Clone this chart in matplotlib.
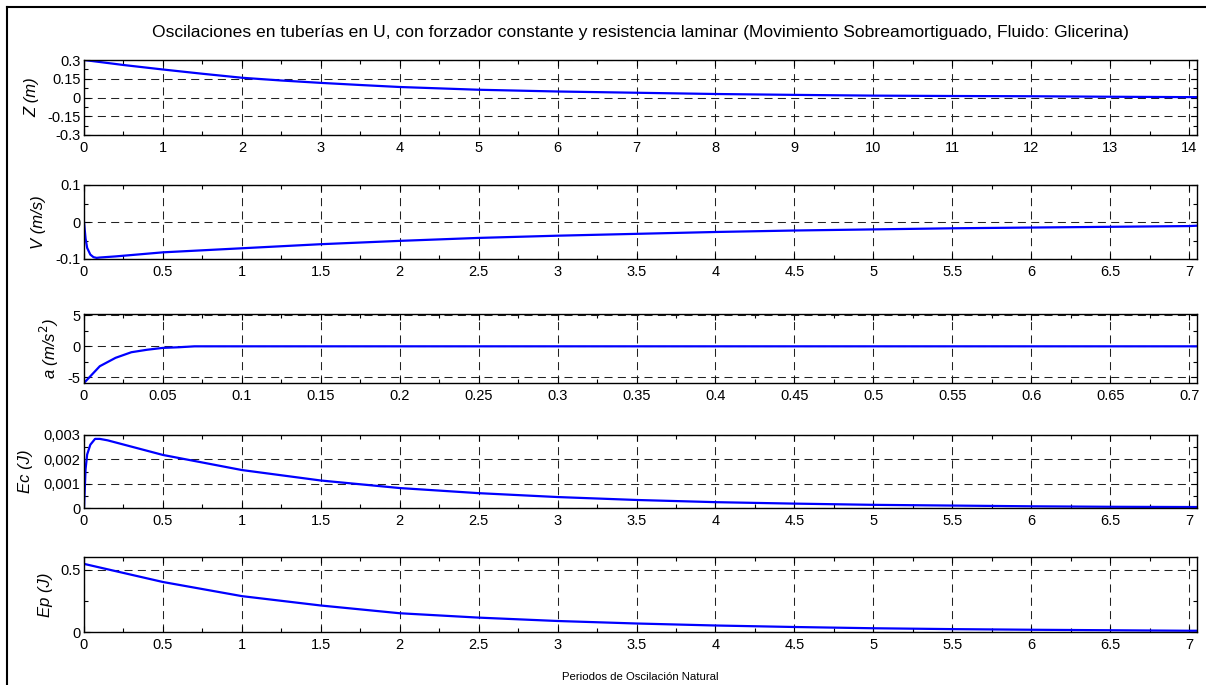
import matplotlib
matplotlib.use("Agg")
import matplotlib.pyplot as plt
from matplotlib.ticker import MultipleLocator, FuncFormatter
from matplotlib.lines import Line2D

plt.rcParams['font.family'] = ['Liberation Sans', 'DejaVu Sans']
plt.rcParams['lines.scale_dashes'] = False

title = ("Oscilaciones en tuberías en U, con forzador constante y resistencia laminar "
         "(Movimiento Sobreamortiguado, Fluido: Glicerina)")
xlabel = "Periodos de Oscilación Natural"

# Z (m) vs periods
z_t = [0, 0.5, 1, 1.5, 2, 2.5, 3, 3.5, 4, 5, 6, 7, 8, 9, 10, 11, 12, 13, 14, 14.1]
z_v = [0.3, 0.26, 0.224, 0.19, 0.158, 0.136, 0.117, 0.1, 0.084, 0.062, 0.048, 0.038,
       0.028, 0.021, 0.015, 0.012, 0.01, 0.006, 0.003, 0.003]

# V (m/s)
v_t = [0, 0.01, 0.02, 0.04, 0.06, 0.08, 0.1, 0.2, 0.5, 1, 1.5, 2, 2.5, 3, 3.5, 4,
       4.5, 5, 5.5, 6, 6.5, 7, 7.05]
v_v = [0, -0.045, -0.07, -0.088, -0.095, -0.097, -0.096, -0.093, -0.082, -0.071,
       -0.06, -0.051, -0.043, -0.037, -0.032, -0.027, -0.023, -0.02, -0.017,
       -0.015, -0.013, -0.011, -0.01]

# a (m/s^2)
a_t = [0, 0.01, 0.02, 0.03, 0.04, 0.05, 0.06, 0.07, 0.1, 0.3, 0.5, 0.705]
a_v = [-5.9, -3.2, -1.85, -0.95, -0.55, -0.25, -0.15, 0.0, 0.0, 0.0, 0.0, 0.0]

# Ec (J)
ec_t = [0, 0.01, 0.02, 0.04, 0.07, 0.1, 0.15, 0.5, 1, 1.5, 2, 2.5, 3, 3.5, 4, 4.5,
        5, 5.5, 6, 6.5, 7, 7.05]
ec_v = [0, 0.0016, 0.0022, 0.0026, 0.00284, 0.00284, 0.00278, 0.00218, 0.00156,
        0.00113, 0.00082, 0.00061, 0.00045, 0.00033, 0.00024, 0.00018, 0.00013,
        0.0001, 0.00007, 0.00005, 0.00004, 0.00004]

# Ep (J)
ep_t = [0, 0.5, 1, 1.5, 2, 2.5, 3, 3.5, 4, 4.5, 5, 5.5, 6, 6.5, 7, 7.05]
ep_v = [0.545, 0.40, 0.287, 0.212, 0.15, 0.115, 0.088, 0.068, 0.052, 0.04, 0.03,
        0.023, 0.018, 0.014, 0.01, 0.01]

W, H = 1206, 685
fig = plt.figure(figsize=(W / 100, H / 100), dpi=100)

def rect(top, bottom, left=84, right=1197):
    return [left / W, 1 - bottom / H, (right - left) / W, (bottom - top) / H]

fmt_g = FuncFormatter(lambda v, p: ("%g" % v) if abs(v) > 1e-12 else "0")
fmt_c = FuncFormatter(lambda v, p: ("%g" % v).replace(".", ",") if abs(v) > 1e-12 else "0")

specs = [
    dict(t=z_t, v=z_v, pos=rect(60, 135), xlim=(0, 14.1), ylim=(-0.3, 0.3),
         xmaj=1, xmin=0.5, ymaj=0.15, ymin=0.075, ylab='Z (m)', labx=39, yfmt=fmt_g),
    dict(t=v_t, v=v_v, pos=rect(185, 259), xlim=(0, 7.05), ylim=(-0.1, 0.1),
         xmaj=0.5, xmin=0.25, ymaj=0.1, ymin=0.05, ylab='V (m/s)', labx=46, yfmt=fmt_g),
    dict(t=a_t, v=a_v, pos=rect(314, 383), xlim=(0, 0.705), ylim=(-5.9, 5.2),
         xmaj=0.05, xmin=0.025, ymaj=5, ymin=2.5, ylab='a (m/s$^2$)', labx=61, yfmt=fmt_g),
    dict(t=ec_t, v=ec_v, pos=rect(435, 508), xlim=(0, 7.05), ylim=(0, 0.003),
         xmaj=0.5, xmin=0.25, ymaj=0.001, ymin=0.0005, ylab='Ec (J)', labx=33, yfmt=fmt_c),
    dict(t=ep_t, v=ep_v, pos=rect(557, 632), xlim=(0, 7.05), ylim=(0, 0.6),
         xmaj=0.5, xmin=0.25, ymaj=0.5, ymin=0.25, ylab='Ep (J)', labx=53, yfmt=fmt_g),
]

for s in specs:
    ax = fig.add_axes(s['pos'])
    ax.plot(s['t'], s['v'], color='#0000ff', lw=1.6)
    ax.set_xlim(*s['xlim'])
    ax.set_ylim(*s['ylim'])
    ax.xaxis.set_major_locator(MultipleLocator(s['xmaj']))
    ax.xaxis.set_minor_locator(MultipleLocator(s['xmin']))
    ax.yaxis.set_major_locator(MultipleLocator(s['ymaj']))
    ax.yaxis.set_minor_locator(MultipleLocator(s['ymin']))
    ax.xaxis.set_major_formatter(fmt_g)
    ax.yaxis.set_major_formatter(s['yfmt'])
    ax.tick_params(which='both', direction='in', top=True, right=True,
                   labelsize=10.5, colors='black', width=0.8)
    ax.tick_params(which='major', length=4)
    ax.tick_params(which='minor', length=3)
    ax.tick_params(axis='x', which='major', pad=4)
    ax.tick_params(axis='y', which='major', pad=2.5)
    ax.grid(True, which='major', linestyle=(0, (5.8, 3.8)), color='#222222', lw=0.75)
    for sp in ax.spines.values():
        sp.set_linewidth(1.0)
        sp.set_color('black')
    ax.set_ylabel(s['ylab'], fontsize=12, style='italic')
    ax.yaxis.set_label_coords((s['labx'] - 84) / (1197 - 84), 0.5)

fig.text(640 / W, 1 - 33 / H, title, ha='center', va='center', fontsize=12.6)
fig.text(640 / W, 1 - 677 / H, xlabel, ha='center', va='center', fontsize=8.2)

# outer frame (left and top edges visible)
fig.add_artist(Line2D([7 / W, 7 / W], [0, 1 - 7 / H], transform=fig.transFigure,
                      color='black', lw=1.5))
fig.add_artist(Line2D([7 / W, 1], [1 - 7 / H, 1 - 7 / H], transform=fig.transFigure,
                      color='black', lw=1.5))

fig.savefig('out.png', dpi=100)
